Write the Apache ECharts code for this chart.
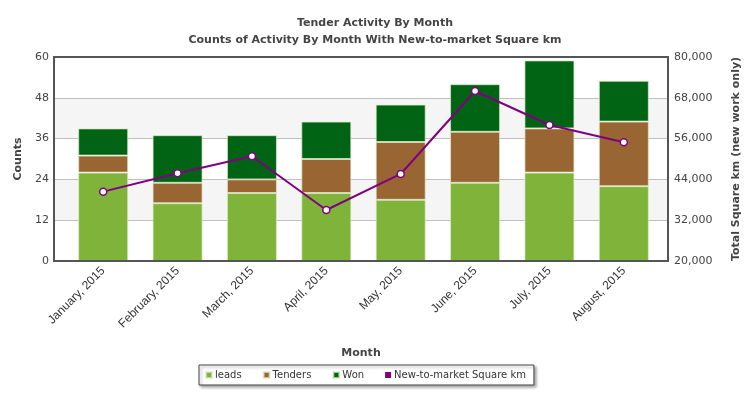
<!DOCTYPE html>
<html><head><meta charset="utf-8">
<script src="https://cdn.jsdelivr.net/npm/echarts@6/dist/echarts.min.js"></script>
<style>html,body{margin:0;padding:0;background:#fff}#c{width:750px;height:398px}</style>
</head><body><div id="c"></div>
<script>
const categories = ['January, 2015','February, 2015','March, 2015','April, 2015','May, 2015','June, 2015','July, 2015','August, 2015'];
const leads = [26, 17, 20, 20, 18, 23, 26, 22];
const tenders = [5, 6, 4, 10, 17, 15, 13, 19];
const won = [8, 14, 13, 11, 11, 14, 20, 12];
const squareKm = [40400, 45800, 50800, 35000, 45600, 70000, 60000, 54900];
const leftTicks = [0, 12, 24, 36, 48, 60];
const rightTicks = [20000, 32000, 44000, 56000, 68000, 80000];

const chart = echarts.init(document.getElementById('c'));
const lblFont = {fontFamily:'DejaVu Sans', fontSize:11, color:'#444'};
const frame = {show:true, lineStyle:{color:'#555', width:2}};
const barBorder = {borderColor:'rgba(220,235,200,0.7)', borderWidth:1};
const hiddenAxis = {show:false, splitLine:{show:false}, axisLine:{show:false}, axisTick:{show:false}, axisLabel:{show:false}};
const lMin = leftTicks[0], lMax = leftTicks[leftTicks.length-1];
const rMin = rightTicks[0], rMax = rightTicks[rightTicks.length-1];
chart.setOption({
  animation:false,
  title:[
    {text:'Tender Activity By Month', left:'center', top:13, textStyle:{fontFamily:'DejaVu Sans', fontSize:11, fontWeight:'bold', color:'#444'}},
    {text:'Counts of Activity By Month With New-to-market Square km', left:'center', top:30, textStyle:{fontFamily:'DejaVu Sans', fontSize:11, fontWeight:'bold', color:'#444'}}
  ],
  grid:[
    {left:54, right:77, top:57, bottom:137},
    {left:66, right:89, top:57, bottom:137}
  ],
  legend:{
    left:199, top:365,
    padding:[5,8,5,6], itemGap:21, itemWidth:6, itemHeight:6, icon:'rect',
    borderColor:'#444', borderWidth:1, backgroundColor:'#fff',
    shadowColor:'rgba(0,0,0,0.35)', shadowBlur:3, shadowOffsetX:2, shadowOffsetY:2,
    textStyle:{fontFamily:'DejaVu Sans', fontSize:10, color:'#333', padding:[0,0,0,-2]},
    data:[
      {name:'leads', itemStyle:{color:'#80b33a'}},
      {name:'Tenders', itemStyle:{color:'#996633'}},
      {name:'Won', itemStyle:{color:'#006414'}},
      {name:'New-to-market Square km', itemStyle:{color:'#800080', borderWidth:0}, lineStyle:{width:0}}
    ]
  },
  xAxis:[{
    gridIndex:0, type:'category', data:categories,
    name:'Month', nameLocation:'middle', nameGap:87,
    nameTextStyle:{fontFamily:'DejaVu Sans', fontSize:11, fontWeight:'bold', color:'#444'},
    axisLine:frame, axisTick:{show:false}, axisLabel:{show:false}, splitLine:{show:false},
    z:10
  },{
    gridIndex:0, type:'category', data:categories, position:'top',
    axisLine:frame, axisTick:{show:false}, axisLabel:{show:false}, splitLine:{show:false}, z:10
  },{
    gridIndex:1, type:'category', data:categories,
    axisLine:{show:false}, axisTick:{show:false}, splitLine:{show:false},
    axisLabel:{rotate:45, fontFamily:'Liberation Sans', fontSize:12, color:'#333', margin:8}
  }],
  yAxis:[
    {gridIndex:0, type:'value', min:lMin, max:lMax, interval:12,
     name:'Counts', nameLocation:'middle', nameGap:27, nameRotate:90,
     nameTextStyle:{fontFamily:'DejaVu Sans', fontSize:11, fontWeight:'bold', color:'#444'},
     axisLine:frame, axisTick:{show:false},
     axisLabel:Object.assign({margin:5}, lblFont),
     splitLine:{lineStyle:{color:'#c0c0c0', width:1}},
     splitArea:{show:true, areaStyle:{color:['#ffffff','#f5f5f5']}}},
    {gridIndex:0, type:'value', min:rMin, max:rMax, interval:12000, position:'right',
     name:'Total Square km (new work only)', nameLocation:'middle', nameGap:63, nameRotate:90,
     nameTextStyle:{fontFamily:'DejaVu Sans', fontSize:11, fontWeight:'bold', color:'#444'},
     axisLine:frame, axisTick:{show:false},
     axisLabel:Object.assign({margin:6, formatter:v=>v.toLocaleString('en-US')}, lblFont),
     splitLine:{show:false}},
    Object.assign({gridIndex:1, type:'value', min:lMin, max:lMax}, hiddenAxis),
    Object.assign({gridIndex:1, type:'value', min:rMin, max:rMax, position:'right'}, hiddenAxis)
  ],
  series:[
    {name:'leads', type:'bar', stack:'a', xAxisIndex:2, yAxisIndex:2, data:leads, barWidth:50, itemStyle:Object.assign({color:'#80b33a'}, barBorder)},
    {name:'Tenders', type:'bar', stack:'a', xAxisIndex:2, yAxisIndex:2, data:tenders, barWidth:50, itemStyle:Object.assign({color:'#996633'}, barBorder)},
    {name:'Won', type:'bar', stack:'a', xAxisIndex:2, yAxisIndex:2, data:won, barWidth:50, itemStyle:Object.assign({color:'#006414'}, barBorder)},
    {name:'New-to-market Square km', type:'line', xAxisIndex:2, yAxisIndex:3, data:squareKm,
     symbol:'circle', symbolSize:7, lineStyle:{color:'#800080', width:2},
     itemStyle:{color:'#ffffff', borderColor:'#800080', borderWidth:1.5}, z:5}
  ]
});
</script></body></html>
